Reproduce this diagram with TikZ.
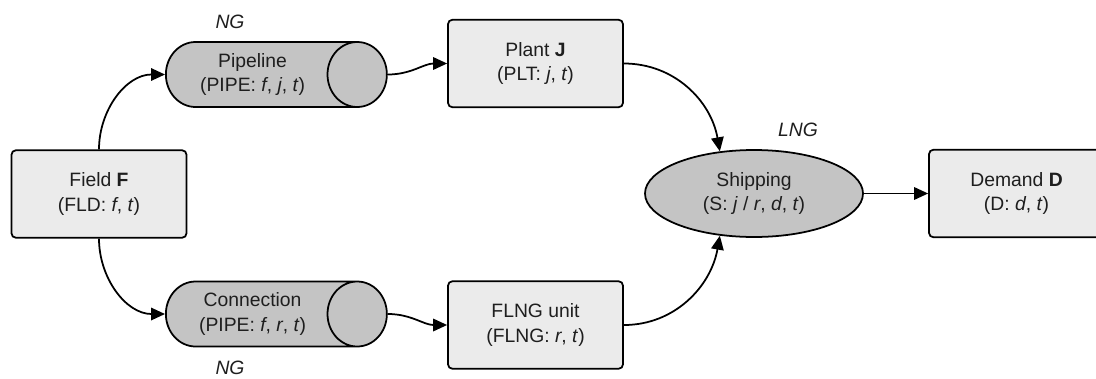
\documentclass[tikz,border=0pt]{standalone}
\usepackage{fontspec}
\setmainfont{Liberation Sans}
\usetikzlibrary{shapes.geometric}
\usetikzlibrary{arrows.meta}
\definecolor{boxgray}{HTML}{EBEBEB}
\definecolor{pipegray}{HTML}{C4C4C4}
\definecolor{inkgray}{HTML}{1E1E1E}
\tikzstyle{unit}=[draw, line width=1pt, rounded corners=2.5pt, fill=boxgray,
  minimum width=3.5cm, minimum height=1.75cm, align=center, text=inkgray]
\tikzstyle{pipe}=[draw, line width=1pt, cylinder, shape border rotate=0, aspect=1.1,
  cylinder uses custom fill, cylinder body fill=pipegray, cylinder end fill=pipegray,
  minimum width=1.3cm, minimum height=4.42cm, align=center, text=inkgray, anchor=west]
\tikzstyle{port}=[draw, line width=1pt, ellipse, fill=pipegray,
  minimum width=4.36cm, minimum height=1.74cm, align=center, text=inkgray]
\tikzstyle{link}=[line width=1pt, -{Triangle[length=2.8mm,width=2.5mm]}]
\tikzstyle{phase}=[font=\fontsize{11}{13.6}\selectfont\itshape, text=inkgray]

\begin{document}
\begin{tikzpicture}[font=\fontsize{11}{13.8}\selectfont]
          \useasboundingbox (0,0) rectangle (21.92,-7.56);

          \node[unit] (fld) at (1.98, -3.88) {Field \textbf{F}\\(FLD: \textit{f}, \textit{t})};
          \node[pipe] (pipe) at (3.3, -1.49) {Pipeline\\(PIPE: \textit{f}, \textit{j}, \textit{t})};
          \node[pipe] (conn) at (3.3, -6.28) {Connection\\(PIPE: \textit{f}, \textit{r}, \textit{t})};
          \node[unit] (plt) at (10.71, -1.27) {Plant \textbf{J}\\(PLT: \textit{j}, \textit{t})};
          \node[unit] (flng) at (10.71, -6.5) {FLNG unit\\(FLNG: \textit{r}, \textit{t})};
          \node[port] (ship) at (15.08, -3.87) {Shipping\\(S: \textit{j} / \textit{r}, \textit{d}, \textit{t})};
          \node[unit] (dem) at (20.33, -3.87) {Demand \textbf{D}\\(D: \textit{d}, \textit{t})};

          \node[phase] (ngtop) at (4.6, -0.44) {NG};
          \node[phase] (ngbot) at (4.6, -7.36) {NG};
          \node[phase] (lng) at (15.96, -2.6) {LNG};

          \draw[link] (fld.north) to[out=90, in=180] (pipe.west);
          \draw[link] (fld.south) to[out=-90, in=180] (conn.west);
          \draw[link] (pipe.east) to[out=0, in=180] (plt.west);
          \draw[link] (conn.east) to[out=0, in=180] (flng.west);
          \draw[link] (plt.east) to[out=0, in=100] (ship.129);
          \draw[link] (flng.east) to[out=0, in=-100] (ship.231);
          \draw[link] (ship) -- (dem);
        \end{tikzpicture}
\end{document}
